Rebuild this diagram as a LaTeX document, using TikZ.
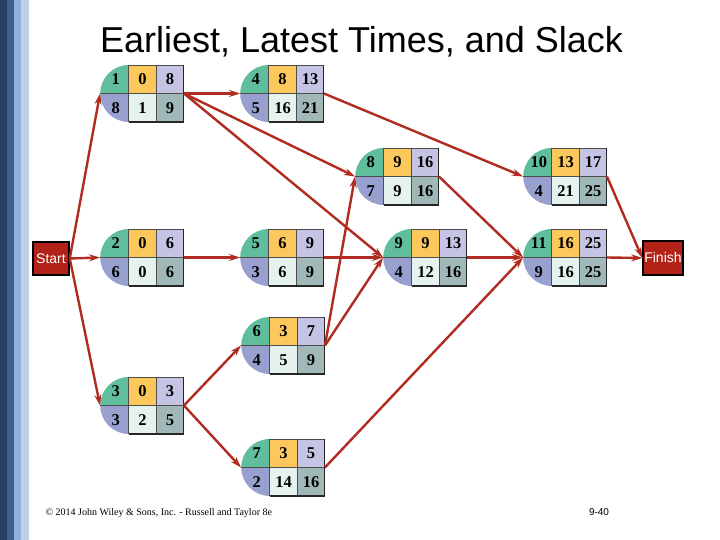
\documentclass[tikz,border=0pt]{standalone}
\usepackage{fontspec}
\setmainfont{Liberation Serif}
\setsansfont{Liberation Sans}
\usetikzlibrary{arrows.meta, positioning}

\definecolor{cgreen}{RGB}{96,190,156}
\definecolor{cyellow}{RGB}{252,200,92}
\definecolor{clav}{RGB}{198,196,228}
\definecolor{cblue}{RGB}{152,160,208}
\definecolor{cpale}{RGB}{230,242,238}
\definecolor{cgrey}{RGB}{160,184,184}
\definecolor{linkred}{RGB}{176,44,32}
\definecolor{boxred}{RGB}{178,34,24}
\definecolor{stripeA}{RGB}{39,63,96}
\definecolor{stripeB}{RGB}{58,96,144}
\definecolor{stripeC}{RGB}{147,176,216}
\definecolor{stripeD}{RGB}{188,208,232}

\tikzset{
  actbox/.style={rectangle, minimum width=83.5pt, minimum height=57pt, inner sep=0pt},
  num/.style={font=\fontsize{16.5}{17}\selectfont\bfseries, inner sep=0pt},
  grid/.style={draw=black!70, line width=0.6pt},
  rim/.style={draw=black!85, line width=1.4pt},
  link/.style={draw=linkred, line width=2.4pt, -{Stealth[length=11pt,width=7pt]}},
  endbox/.style={rectangle, draw=black, line width=1.5pt, fill=boxred, text=white,
    font=\sffamily\fontsize{14}{15}\selectfont, inner sep=0pt}
}

% activity box: name, position, number, ES, EF, duration, LS, LF
\newcommand{\activity}[8]{%
  \node[actbox] (#1) at #2 {};
  \begin{scope}[shift={(#1.center)}]
    \fill[cgreen] (-13.25,0) -- (-41.75,0) arc[start angle=180, end angle=90, radius=28.5] -- cycle;
    \fill[cblue] (-13.25,0) -- (-41.75,0) arc[start angle=180, end angle=270, radius=28.5] -- cycle;
    \fill[cyellow] (-13.25,0) rectangle (14.25,28.5);
    \fill[clav] (14.25,0) rectangle (41.75,28.5);
    \fill[cpale] (-13.25,-28.5) rectangle (14.25,0);
    \fill[cgrey] (14.25,-28.5) rectangle (41.75,0);
    \draw[grid] (-41.75,0) -- (41.75,0) (-13.25,28.5) -- (-13.25,-28.5)
      (14.25,28.5) -- (14.25,-28.5) (-13.25,28.5) -- (41.75,28.5);
    \draw[rim] (41.75,28.5) -- (41.75,-28.5) -- (-13.25,-28.5);
    \node[num] at (-26.25,14.25) {#3};
    \node[num] at (0.5,14.25) {#4};
    \node[num] at (28,14.25) {#5};
    \node[num] at (-26.25,-14.25) {#6};
    \node[num] at (0.5,-14.25) {#7};
    \node[num] at (28,-14.25) {#8};
  \end{scope}
}

\begin{document}
\begin{tikzpicture}[x=1pt, y=1pt]
    \useasboundingbox (0,0) rectangle (720,540);
    \fill[white] (0,0) rectangle (720,540);
    % side stripes
    \fill[stripeA] (0,0) rectangle (7,540);
    \fill[stripeB] (7,0) rectangle (14,540);
    \fill[stripeC] (14,0) rectangle (21,540);
    \fill[stripeD] (21,0) rectangle (29,540);

    \node[font=\sffamily\fontsize{36}{40}\selectfont, anchor=base] (title) at (361.5,487)
      {Earliest, Latest Times, and Slack};

    \activity{n1}{(142,446.5)}{1}{0}{8}{8}{1}{9}
    \activity{n4}{(282,446.5)}{4}{8}{13}{5}{16}{21}
    \activity{n8}{(397,363.5)}{8}{9}{16}{7}{9}{16}
    \activity{n10}{(565,363.5)}{10}{13}{17}{4}{21}{25}
    \activity{n2}{(142,282.5)}{2}{0}{6}{6}{0}{6}
    \activity{n5}{(282,282.5)}{5}{6}{9}{3}{6}{9}
    \activity{n9}{(425,282.5)}{9}{9}{13}{4}{12}{16}
    \activity{n11}{(565,282.5)}{11}{16}{25}{9}{16}{25}
    \activity{n6}{(283,194.5)}{6}{3}{7}{4}{5}{9}
    \activity{n3}{(142,134.5)}{3}{0}{3}{3}{2}{5}
    \activity{n7}{(283,72.5)}{7}{3}{5}{2}{14}{16}

    \node[endbox, minimum width=36pt, minimum height=33pt] (start) at (51,281.5) {Start};
    \node[endbox, minimum width=40pt, minimum height=34pt] (finish) at (663,282) {Finish};

    \draw[link] (start.east) -- (n1.west);
    \draw[link] (start.east) -- (n2.west);
    \draw[link] (start.east) -- (n3.west);
    \draw[link] (n1.east) -- (n4.west);
    \draw[link] (n1.east) -- (n8.west);
    \draw[link] (n1.east) -- (n9.west);
    \draw[link] (n2.east) -- (n5.west);
    \draw[link] (n3.east) -- (n6.west);
    \draw[link] (n3.east) -- (n7.west);
    \draw[link] (n4.east) -- (n10.west);
    \draw[link] (n5.east) -- (n9.west);
    \draw[link] (n6.east) -- (n8.west);
    \draw[link] (n6.east) -- (n9.west);
    \draw[link] (n7.east) -- (n11.west);
    \draw[link] (n8.east) -- (n11.west);
    \draw[link] (n9.east) -- (n11.west);
    \draw[link] (n10.east) -- (finish.west);
    \draw[link] (n11.east) -- (finish.west);

    \node[font=\fontsize{10}{11}\selectfont, anchor=base west] (credit) at (42,24)
      {\textcopyright{} 2014 John Wiley \& Sons, Inc. - Russell and Taylor 8e};
    \node[font=\sffamily\fontsize{10}{12}\selectfont, anchor=base] (page) at (599,24) {9-40};
\end{tikzpicture}
\end{document}
